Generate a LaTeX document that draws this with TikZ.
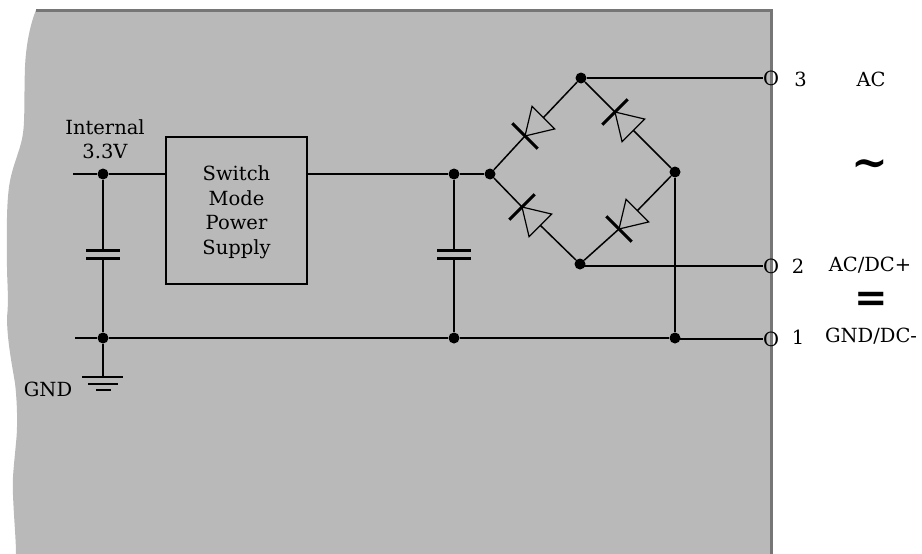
\documentclass[tikz,border=0pt]{standalone}
\usepackage{tikz}
\usepackage{fontspec}
\setmainfont{DejaVu Serif}
\usetikzlibrary{positioning}

\definecolor{boardgray}{RGB}{185,185,185}
\definecolor{edgegray}{RGB}{118,118,118}

\tikzset{
  dot/.style={circle,fill=black,inner sep=0pt,minimum size=11pt},
  wire/.style={-,line width=2pt},
  thinwire/.style={-,line width=1.5pt},
  plate/.style={-,line width=3pt},
  txt/.style={inner sep=0pt,font=\fontsize{19.5}{24.5}\selectfont,align=center},
  tildesign/.style={inner sep=0pt,font=\fontsize{44}{44}\selectfont\bfseries},
  equalsign/.style={inner sep=0pt,font=\fontsize{40}{40}\selectfont\bfseries},
  smps/.style={draw,line width=2pt,inner sep=0pt,minimum width=141pt,minimum height=147pt}
}

% apex of the triangle sits on the bar, name-a = apex, name-b = middle of base
\newcommand{\diode}[3]{
  \begin{scope}[shift={(#2)},rotate=#3]
    \coordinate (#1-a) at (0,0);
    \coordinate (#1-b) at (-26,0);
    \draw[line width=1.2pt] (0,0) -- (-26,16) -- (-26,-16) -- cycle;
    \draw[plate] (0,-18) -- (0,18);
  \end{scope}
}

\begin{document}
\begin{tikzpicture}[x=1pt,y=-1pt]
 \useasboundingbox (0,0) rectangle (922,554);

 % board
 \fill[boardgray] (36,10) .. controls (30,25) and (26,45) .. (25,67)
    .. controls (24,95) and (25,120) .. (23,133)
    .. controls (21,150) and (12,165) .. (9,187)
    .. controls (6,210) and (7,240) .. (7,267)
    .. controls (7,280) and (9,300) .. (7,317)
    .. controls (7,340) and (12,365) .. (15,383)
    .. controls (17,400) and (18,425) .. (16,443)
    .. controls (14,465) and (12,480) .. (13,495)
    .. controls (14,520) and (16,540) .. (16,554)
    -- (771,554) -- (771,10) -- cycle;
 \draw[edgegray,line width=3pt] (36,10) -- (771,10) -- (771,554);

 \draw (103,174) node[dot] (in) {};
 \draw (454,174) node[dot] (capnode) {};
 \draw (490,174) node[dot] (left) {};
 \draw (581,78) node[dot] (top) {};
 \draw (675,172) node[dot] (right) {};
 \draw (580,264) node[dot] (bottom) {};
 \draw (103,338) node[dot] (gnda) {};
 \draw (454,338) node[dot] (gndb) {};
 \draw (675,338) node[dot] (gndc) {};

 \draw (236.5,210.5) node[smps] (supply) {};
 \draw (236.5,212.5) node[txt] (supplytext) {Switch\\Mode\\Power\\Supply};
 \coordinate (supplyin) at (166,174);
 \coordinate (supplyout) at (307,174);

 \draw (105,139) node[txt] (internal) {Internal\\3.3V};
 \draw (48,389) node[txt] (gndtext) {GND};

 \draw (771,78) node[txt] (termc) {O};
 \draw (771,266) node[txt] (termb) {O};
 \draw (771,339) node[txt] (terma) {O};
 \draw (800.5,79) node[txt] (three) {3};
 \draw (798,266) node[txt] (two) {2};
 \draw (798,337) node[txt] (one) {1};
 \draw (871,79) node[txt] (ac) {AC};
 \draw (870,265) node[txt] (acdc) {AC/DC+};
 \draw (871,336) node[txt] (gnddc) {GND/DC-};
 \draw (870,169) node[tildesign] (tilde) {\textasciitilde};
 \draw (871,302) node[equalsign] (equal) {=};

 \coordinate (instart) at (73,174);
 \coordinate (gndstart) at (75,338);
 \coordinate (capaup) at (103,250);
 \coordinate (capadown) at (103,258);
 \coordinate (capbup) at (454,250);
 \coordinate (capbdown) at (454,258);
 \coordinate (earth) at (103,377);
 \coordinate (bottomout) at (580,266);
 \coordinate (gndout) at (675,339);

 \diode{dtl}{525,136}{225}
 \diode{dtr}{615,112}{135}
 \diode{dbl}{522,207}{135}
 \diode{dbr}{619,229}{225}

 \path[wire] (instart) edge (in);
 \path[wire] (in) edge (supplyin);
 \path[wire] (supplyout) edge (capnode);
 \path[wire] (capnode) edge (left);
 \path[wire] (gndstart) edge (gnda);
 \path[wire] (gnda) edge (gndb);
 \path[wire] (gndb) edge (gndc);
 \path[wire] (gndout) edge (terma);
 \path[wire] (in) edge (capaup);
 \path[wire] (capadown) edge (gnda);
 \path[wire] (capnode) edge (capbup);
 \path[wire] (capbdown) edge (gndb);
 \path[wire] (gnda) edge (earth);
 \path[wire] (right) edge (gndc);
 \path[wire] (top) edge (termc);
 \path[wire] (bottomout) edge (termb);

 \path[thinwire] (top) edge (dtl-b);
 \path[thinwire] (dtl-a) edge (left);
 \path[thinwire] (top) edge (dtr-a);
 \path[thinwire] (dtr-b) edge (right);
 \path[thinwire] (left) edge (dbl-a);
 \path[thinwire] (dbl-b) edge (bottom);
 \path[thinwire] (bottom) edge (dbr-a);
 \path[thinwire] (dbr-b) edge (right);

 \draw[plate] (86,250) -- (120,250);
 \draw[plate] (86,258) -- (120,258);
 \draw[plate] (437,250) -- (471,250);
 \draw[plate] (437,258) -- (471,258);

 \draw[wire] (82,377) -- (123,377);
 \draw[wire] (88,384) -- (118,384);
 \draw[wire] (96,390) -- (111,390);
\end{tikzpicture}
\end{document}
